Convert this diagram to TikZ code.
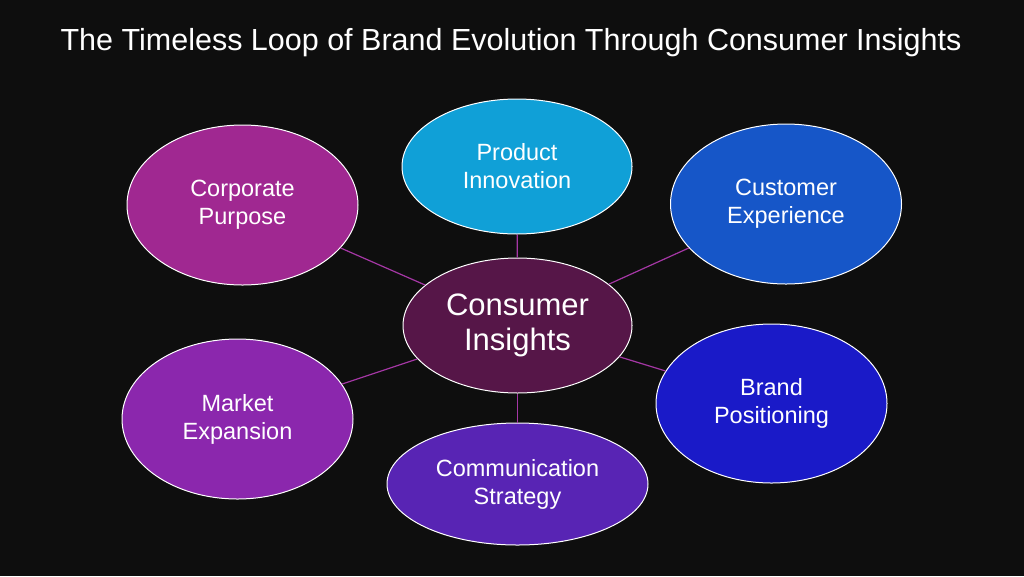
\documentclass[tikz,border=0pt]{standalone}
\usepackage{fontspec}
\setmainfont{Liberation Sans}
\usetikzlibrary{shapes.geometric}

\definecolor{bgblack}{RGB}{14,14,14}
\definecolor{linkpurple}{RGB}{165,55,165}
\definecolor{centerplum}{RGB}{86,22,72}
\definecolor{purposemagenta}{RGB}{160,40,145}
\definecolor{innovcyan}{RGB}{16,160,215}
\definecolor{experblue}{RGB}{22,86,200}
\definecolor{positblue}{RGB}{26,26,200}
\definecolor{commviolet}{RGB}{88,36,180}
\definecolor{marketpurple}{RGB}{139,39,173}

\begin{document}
\begin{tikzpicture}[x=1pt,y=-1pt,
		bubble/.style={ellipse,draw=white,line width=1pt,inner sep=0pt,
			minimum width=231pt,minimum height=160pt,text=white,align=center,
			font=\fontsize{23.5}{28}\selectfont},
		hub/.style={bubble,minimum height=135pt,font=\fontsize{31}{35}\selectfont},
		link/.style={draw=linkpurple,line width=1.2pt}]
		\fill [bgblack] (0,0) rectangle (1024,576);
		\node (title) [text=white,font=\fontsize{30.5}{36}\selectfont] at (511,43) {The Timeless Loop of Brand Evolution Through Consumer Insights};
		% outer bubbles
		\node (purpose) [bubble,fill=purposemagenta] at (242.5,205) {Corporate\\Purpose};
		\node (innov) [bubble,fill=innovcyan,minimum width=230pt,minimum height=135pt] at (517,166.5) {Product\\Innovation};
		\node (exper) [bubble,fill=experblue] at (786,204) {Customer\\Experience};
		\node (market) [bubble,fill=marketpurple] at (237.5,419) {Market\\Expansion};
		\node (posit) [bubble,fill=positblue,minimum height=159pt] at (771.5,403.5) {Brand\\Positioning};
		\node (comm) [bubble,fill=commviolet,minimum width=261pt,minimum height=122pt] at (517.5,484) {Communication\\Strategy};
		% hub
		\node (hub) [hub,fill=centerplum,minimum width=229pt] at (517.5,325.5) {Consumer\\Insights};
		\draw [link] (hub) -- (purpose);
		\draw [link] (hub) -- (innov);
		\draw [link] (hub) -- (exper);
		\draw [link] (hub) -- (market);
		\draw [link] (hub) -- (posit);
		\draw [link] (hub) -- (comm);
	\end{tikzpicture}
\end{document}
